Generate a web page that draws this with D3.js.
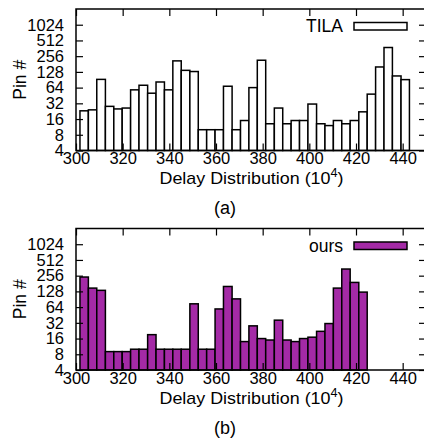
<!DOCTYPE html>
<html lang="en">
<head>
<meta charset="utf-8">
<title>Delay Distribution</title>
<script src="https://d3js.org/d3.v7.min.js"></script>
<style>
  body { margin: 0; background: #fff; }
  text { font-family: "Liberation Sans", Arial, sans-serif; fill: #000; }
</style>
</head>
<body>
<script>
const width = 424;
const height = 441;

// bin edges of the delay histogram (x 10^4)
const binEdges = [301.7, 305.3, 308.9, 312.6, 316.2, 319.8, 323.4, 327.0, 330.7, 334.3,
                  337.9, 341.5, 345.1, 348.8, 352.4, 356.0, 359.6, 363.2, 366.9, 370.5,
                  374.1, 377.7, 381.3, 385.0, 388.6, 392.2, 395.8, 399.4, 403.1, 406.7,
                  410.3, 413.9, 417.5, 421.2, 424.8, 428.4, 432.0, 435.6, 439.3, 442.9];

const tilaCounts = [23, 24, 92, 28, 25, 26, 58, 71, 50, 82,
                    58, 208, 137, 130, 10, 10, 10, 68, 10, 15,
                    64, 214, 13, 26, 13, 15, 15, 31, 13, 12,
                    15, 13, 15, 22, 48, 159, 375, 107, 91];

const oursCounts = [241, 148, 134, 9, 9, 9, 10, 10, 19, 10,
                    10, 10, 10, 74, 10, 10, 59, 159, 92, 14,
                    28, 16, 15, 36, 15, 14, 16, 17, 22, 31,
                    148, 343, 190, 124];

const xTicks = [300, 320, 340, 360, 380, 400, 420, 440];
const yTicks = [4, 8, 16, 32, 64, 128, 256, 512, 1024];

const svg = d3.select("body").append("svg")
    .attr("width", width)
    .attr("height", height);

const x = d3.scaleLinear().domain([300, 450]).range([76, 426]);

function drawPanel(top, counts, fill, label, caption) {
    const g = svg.append("g").attr("transform", "translate(0," + top + ")");
    const y = d3.scaleLog().base(2).domain([4, 2048]).range([141.5, 0]);

    // bars
    g.selectAll("rect.bar")
        .data(counts)
        .join("rect")
        .attr("class", "bar")
        .attr("x", (d, i) => x(binEdges[i]))
        .attr("width", (d, i) => x(binEdges[i + 1]) - x(binEdges[i]))
        .attr("y", d => y(d))
        .attr("height", d => y(4) - y(d))
        .attr("fill", fill)
        .attr("stroke", "#000")
        .attr("stroke-width", 1.5);

    // axes, ticks pointing inward
    g.append("g")
        .attr("transform", "translate(0," + y(4) + ")")
        .call(d3.axisBottom(x).tickValues(xTicks).tickSizeInner(-7).tickSizeOuter(0).tickPadding(2));
    g.append("g")
        .call(d3.axisTop(x).tickValues(xTicks).tickSizeInner(-7).tickSizeOuter(0).tickFormat(""));
    g.append("g")
        .attr("transform", "translate(" + x(300) + ",0)")
        .call(d3.axisLeft(y).tickValues(yTicks).tickFormat(d3.format("d")).tickSizeInner(-7).tickSizeOuter(0).tickPadding(12));
    g.append("g")
        .attr("transform", "translate(" + x(450) + ",0)")
        .call(d3.axisRight(y).tickValues(yTicks).tickSizeInner(-7).tickSizeOuter(0).tickFormat(""));

    g.selectAll(".tick line").attr("stroke-width", 1.2);
    g.selectAll(".domain").remove();
    g.selectAll(".tick text")
        .attr("font-family", "Liberation Sans, Arial, sans-serif")
        .attr("font-size", 16.5);

    // frame
    g.append("rect")
        .attr("x", x(300))
        .attr("y", y(2048))
        .attr("width", x(450) - x(300))
        .attr("height", y(4) - y(2048))
        .attr("fill", "none")
        .attr("stroke", "#000")
        .attr("stroke-width", 1.5);

    // axis titles
    g.append("text")
        .attr("transform", "translate(26," + (y(4) + y(2048)) / 2 + ") rotate(-90)")
        .attr("text-anchor", "middle")
        .attr("font-size", 17.5)
        .text("Pin #");

    const xt = g.append("text")
        .attr("x", 159.5)
        .attr("y", y(4) + 33.5)
        .attr("font-size", 17)
        .attr("textLength", 184)
        .attr("lengthAdjust", "spacingAndGlyphs");
    xt.append("tspan").text("Delay Distribution (10");
    xt.append("tspan").attr("dy", -7).attr("font-size", 12).text("4");
    xt.append("tspan").attr("dy", 7).text(")");

    // legend
    g.append("text")
        .attr("x", 343)
        .attr("y", 23)
        .attr("text-anchor", "end")
        .attr("font-size", 17.5)
        .text(label);
    g.append("rect")
        .attr("x", 354)
        .attr("y", 13.5)
        .attr("width", 53)
        .attr("height", 7.5)
        .attr("fill", fill)
        .attr("stroke", "#000")
        .attr("stroke-width", 1.5);

    // caption
    g.append("text")
        .attr("x", 225)
        .attr("y", y(4) + 63.5)
        .attr("text-anchor", "middle")
        .attr("font-family", "DejaVu Sans")
        .attr("font-size", 18)
        .text(caption);
}

drawPanel(9, tilaCounts, "#fff", "TILA", "(a)");
drawPanel(228.5, oursCounts, "#a42aa6", "ours", "(b)");
</script>
</body>
</html>
